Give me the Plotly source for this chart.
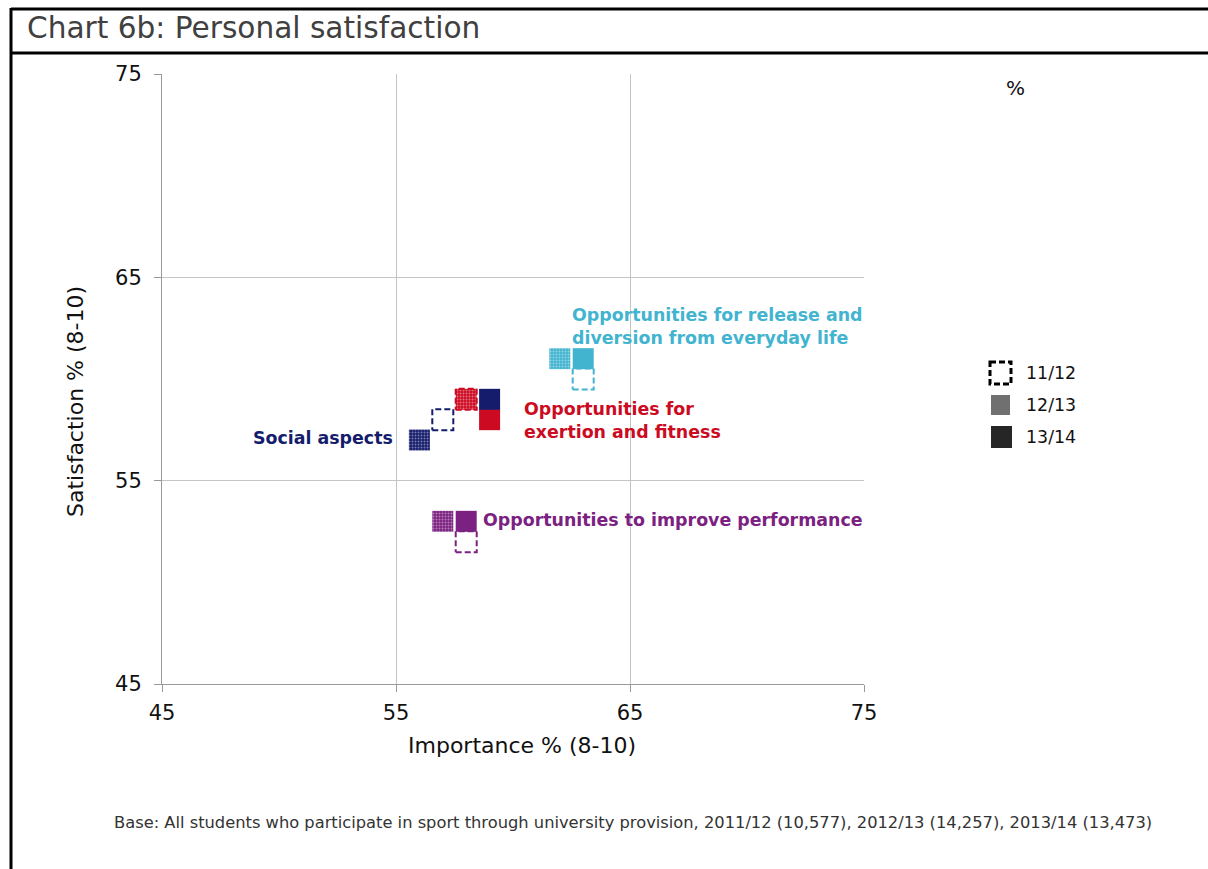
import plotly.graph_objects as go

# ---------------- data ----------------
categories = ["Social aspects",
              "Opportunities for exertion and fitness",
              "Opportunities for release and diversion from everyday life",
              "Opportunities to improve performance"]
series_labels = ["11/12", "12/13", "13/14"]
importance_1112 = [57, 58, 63, 58]
satisfaction_1112 = [58, 59, 60, 52]
importance_1213 = [56, 58, 62, 57]
satisfaction_1213 = [57, 59, 61, 53]
importance_1314 = [59, 59, 63, 58]
satisfaction_1314 = [59, 58, 61, 53]
axis_ticks = [45, 55, 65, 75]

colors = ["#151c6c", "#cc0a22", "#42b4cf", "#7b2181"]

# ---------------- layout geometry ----------------
W, H = 1208, 869
L, R, T, B = 162, 344, 74, 185
PW, PH = W - L - R, H - T - B
XR = (45, 75)
YR = (45, 75)
MS = 21  # marker size in px
hx = (MS / 2) * (XR[1] - XR[0]) / PW
hy = (MS / 2) * (YR[1] - YR[0]) / PH


def px(p):
    return (p - L) / PW


def py(p):
    return (H - B - p) / PH


def square(cx, cy):
    return ([cx - hx, cx + hx, cx + hx, cx - hx, cx - hx],
            [cy - hy, cy - hy, cy + hy, cy + hy, cy - hy])


fig = go.Figure()

# 12/13 patterned squares
for i, c in enumerate(categories):
    xs, ys = square(importance_1213[i], satisfaction_1213[i])
    fig.add_trace(go.Scatter(
        x=xs, y=ys, mode="lines", fill="toself",
        line=dict(width=0, color=colors[i]),
        fillcolor=colors[i],
        fillpattern=dict(shape=".", fgcolor="rgba(255,255,255,0.85)",
                         bgcolor=colors[i], size=3, solidity=0.35),
        showlegend=False, hoverinfo="skip", name=c + " 12/13"))

# 11/12 dashed outline squares
for i, c in enumerate(categories):
    xs, ys = square(importance_1112[i], satisfaction_1112[i])
    fig.add_trace(go.Scatter(
        x=xs, y=ys, mode="lines",
        line=dict(width=2, color=colors[i], dash="6px,3px"),
        showlegend=False, hoverinfo="skip", name=c + " 11/12"))

# 13/14 solid squares (red drawn before navy so navy sits on top)
for i in [1, 0, 2, 3]:
    fig.add_trace(go.Scatter(
        x=[importance_1314[i]], y=[satisfaction_1314[i]], mode="markers",
        marker=dict(symbol="square", size=MS, color=colors[i],
                    line=dict(width=0)),
        showlegend=False, name=categories[i] + " 13/14"))

font = "DejaVu Sans"
LBL = 17.4

annotations = [
    dict(x=62.45, y=62.6, xref="x", yref="y", xanchor="left", yanchor="middle",
         text="<b>Opportunities for release and<br>diversion from everyday life</b>",
         align="left", showarrow=False, font=dict(size=LBL, color=colors[2], family=font)),
    dict(x=60.4, y=57.95, xref="x", yref="y", xanchor="left", yanchor="middle",
         text="<b>Opportunities for<br>exertion and fitness</b>",
         align="left", showarrow=False, font=dict(size=LBL, color=colors[1], family=font)),
    dict(x=54.95, y=57.1, xref="x", yref="y", xanchor="right", yanchor="middle",
         text="<b>Social aspects</b>",
         align="right", showarrow=False, font=dict(size=LBL, color=colors[0], family=font)),
    dict(x=58.62, y=53.05, xref="x", yref="y", xanchor="left", yanchor="middle",
         text="<b>Opportunities to improve performance</b>",
         align="left", showarrow=False, font=dict(size=LBL, color=colors[3], family=font)),
    # axis titles
    dict(x=px(522), y=py(745), xref="paper", yref="paper", xanchor="center", yanchor="middle",
         text="Importance % (8-10)", showarrow=False,
         font=dict(size=22, color="#111", family=font)),
    dict(x=px(75), y=py(402), xref="paper", yref="paper", xanchor="center", yanchor="middle",
         text="Satisfaction % (8-10)", showarrow=False, textangle=-90,
         font=dict(size=22, color="#111", family=font)),
    dict(x=px(1015), y=py(88), xref="paper", yref="paper", xanchor="center", yanchor="middle",
         text="%", showarrow=False, font=dict(size=20, color="#111", family=font)),
    dict(x=px(25), y=py(28), xref="paper", yref="paper", xanchor="left", yanchor="middle",
         text="Chart 6b: Personal satisfaction", showarrow=False,
         font=dict(size=29.6, color="#404040", family=font)),
    dict(x=px(112), y=py(822), xref="paper", yref="paper", xanchor="left", yanchor="middle",
         text="Base: All students who participate in sport through university provision, "
              "2011/12 (10,577), 2012/13 (14,257), 2013/14 (13,473)",
         showarrow=False, font=dict(size=16.3, color="#333", family=font)),
]

# legend labels
leg_y = [373, 405, 437]
for lab, yy in zip(series_labels, leg_y):
    annotations.append(dict(x=px(1024), y=py(yy), xref="paper", yref="paper",
                            xanchor="left", yanchor="middle", text=lab, showarrow=False,
                            font=dict(size=17.4, color="#111", family=font)))

shapes = [
    # frame lines
    dict(type="line", xref="paper", yref="paper", x0=px(11), x1=px(W + 5), y0=py(9), y1=py(9),
         line=dict(color="black", width=3)),
    dict(type="line", xref="paper", yref="paper", x0=px(11), x1=px(W + 5), y0=py(53), y1=py(53),
         line=dict(color="black", width=3)),
    dict(type="line", xref="paper", yref="paper", x0=px(11), x1=px(11), y0=py(8), y1=py(H + 5),
         line=dict(color="black", width=3)),
    # legend swatches
    dict(type="rect", xref="paper", yref="paper", x0=px(990), x1=px(1011), y0=py(362), y1=py(384),
         line=dict(color="black", width=3, dash="6px,3px"), fillcolor="rgba(0,0,0,0)"),
    dict(type="rect", xref="paper", yref="paper", x0=px(991), x1=px(1010), y0=py(395), y1=py(415),
         line=dict(width=0), fillcolor="#707070"),
    dict(type="rect", xref="paper", yref="paper", x0=px(991), x1=px(1012), y0=py(426), y1=py(448),
         line=dict(width=0), fillcolor="#262626"),
]

axis_common = dict(
    tickvals=axis_ticks, ticktext=[str(v) for v in axis_ticks],
    showgrid=True, gridcolor="#c4c4c4", gridwidth=1,
    zeroline=False, showline=True, linecolor="#999999", linewidth=1,
    ticks="outside", ticklen=7, tickcolor="#999999",
    tickfont=dict(size=21, color="#111", family=font),
)

fig.update_layout(
    width=W, height=H,
    margin=dict(l=L, r=R, t=T, b=B, pad=0),
    paper_bgcolor="white", plot_bgcolor="white",
    showlegend=False,
    xaxis=dict(range=list(XR), ticklabelstandoff=3, **axis_common),
    yaxis=dict(range=list(YR), ticklabelstandoff=8, **axis_common),
    annotations=annotations,
    shapes=shapes,
)

fig.write_html("out.html")
